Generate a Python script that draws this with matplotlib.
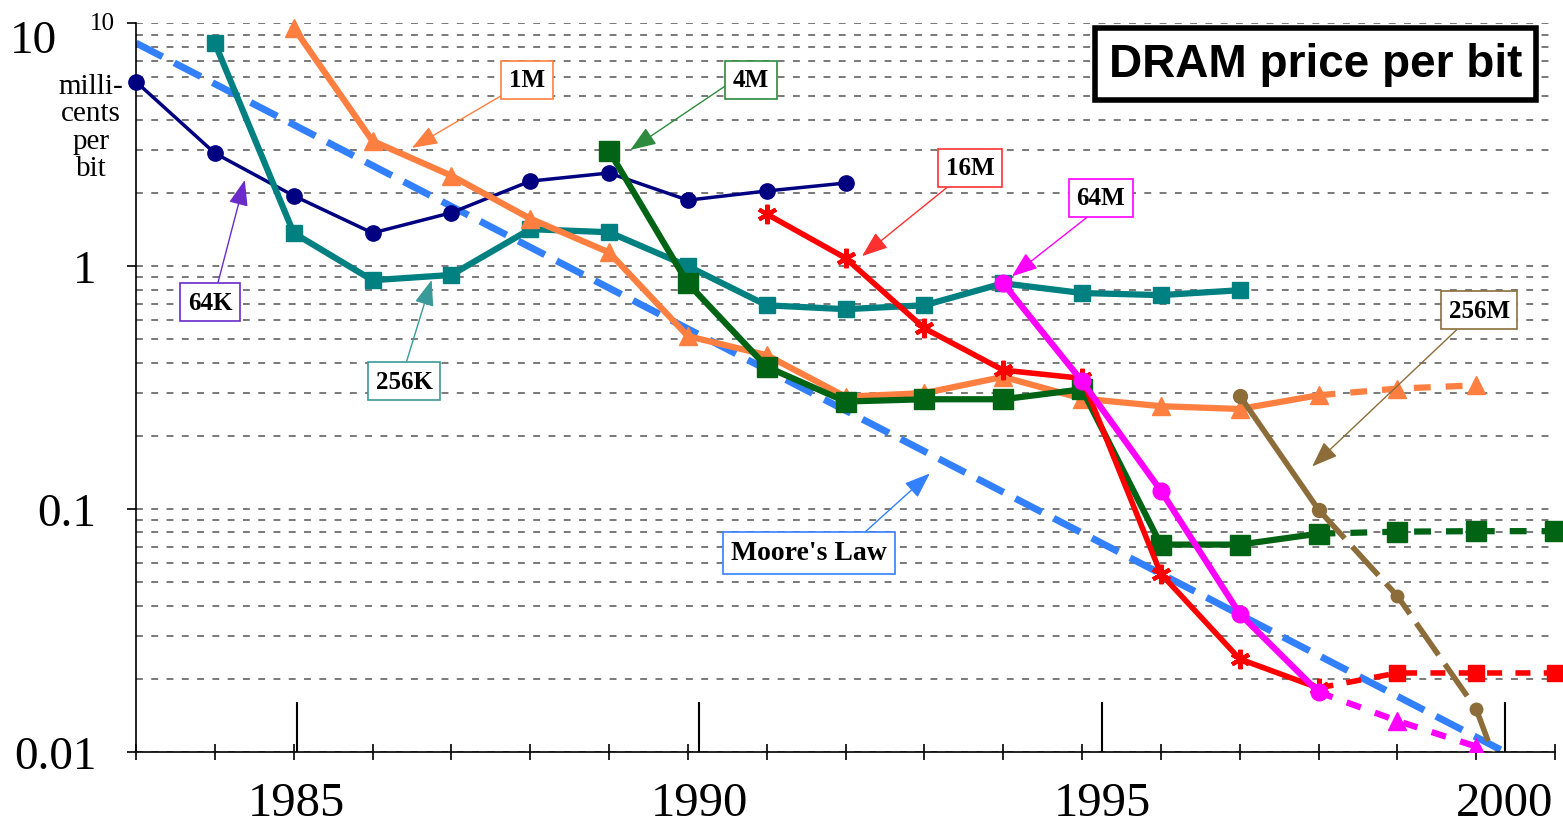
import matplotlib
matplotlib.use('Agg')
import matplotlib.pyplot as plt
from matplotlib.ticker import LogLocator, NullFormatter, FixedLocator
import numpy as np

# ---------------- data (millicents per bit) ----------------
years_64k = [1983, 1984, 1985, 1986, 1987, 1988, 1989, 1990, 1991, 1992]
price_64k = [5.75, 2.92, 1.95, 1.37, 1.66, 2.24, 2.42, 1.87, 2.04, 2.20]

years_256k = [1984, 1985, 1986, 1987, 1988, 1989, 1990, 1991, 1992, 1993, 1994, 1995, 1996, 1997]
price_256k = [8.3, 1.37, 0.875, 0.92, 1.42, 1.38, 1.0, 0.69, 0.665, 0.69, 0.85, 0.775, 0.76, 0.796]

years_1m = [1985, 1986, 1987, 1988, 1989, 1990, 1991, 1992, 1993, 1994, 1995, 1996, 1997, 1998]
price_1m = [9.6, 3.28, 2.36, 1.57, 1.14, 0.515, 0.43, 0.29, 0.30, 0.35, 0.285, 0.265, 0.258, 0.294]
years_1m_proj = [1998, 1999, 2000]
price_1m_proj = [0.294, 0.313, 0.323]

years_4m = [1989, 1990, 1991, 1992, 1993, 1994, 1995, 1996, 1997, 1998]
price_4m = [2.99, 0.85, 0.385, 0.277, 0.283, 0.283, 0.311, 0.0713, 0.0713, 0.0791]
years_4m_proj = [1998, 1999, 2000, 2001]
price_4m_proj = [0.0791, 0.0806, 0.081, 0.081]

years_16m = [1991, 1992, 1993, 1994, 1995, 1996, 1997, 1998]
price_16m = [1.64, 1.08, 0.555, 0.373, 0.345, 0.0541, 0.0241, 0.0183]
years_16m_proj = [1998, 1999, 2000, 2001]
price_16m_proj = [0.0183, 0.0211, 0.0211, 0.0211]

years_64m = [1994, 1995, 1996, 1997, 1998]
price_64m = [0.85, 0.336, 0.119, 0.037, 0.0176]
years_64m_proj = [1998, 1999, 2000]
price_64m_proj = [0.0176, 0.0134, 0.0105]

years_256m = [1997, 1998]
price_256m = [0.293, 0.0993]
years_256m_proj = [1998, 1999, 2000, 2001]
price_256m_proj = [0.0993, 0.0438, 0.015, 0.002]

years_moore = [1983, 2001]
price_moore = [8.3, 0.0078]

year_ticks = list(range(1983, 2002))
year_labels = [1985, 1990, 1995, 2000]
y_ticks = [0.01, 0.1, 1, 10]
y_labels = ['0.01', '0.1', '1', '']

SERIF = 'Liberation Serif'
SANS = 'Liberation Sans'

c_64k = '#000080'
c_256k = '#008080'
c_1m = '#FF7F40'
c_4m = '#006414'
c_16m = '#FF0000'
c_64m = '#FF00FF'
c_256m = '#8C6D3A'
c_moore = '#3380FF'

W, H = 1563, 829
fig = plt.figure(figsize=(W / 100, H / 100), dpi=100)
fig.patch.set_facecolor('white')
ax = fig.add_axes([136 / W, 76.3 / H, 1419 / W, 728.3 / H])
ax.set_yscale('log')
ax.set_xlim(1983, 2001)
ax.set_ylim(0.01, 10)

# grid
ax.yaxis.set_major_locator(FixedLocator(y_ticks))
ax.yaxis.set_minor_locator(LogLocator(base=10, subs=np.arange(2, 10)))
ax.yaxis.set_minor_formatter(NullFormatter())
ax.set_yticklabels(y_labels, fontsize=34, family=SERIF)
ax.tick_params(axis='y', which='minor', length=0)
ax.tick_params(axis='y', which='major', direction='out', length=6.5, width=1.2, pad=22)
ax.grid(True, axis='y', which='both', color='#555555', lw=1.1, linestyle=(0, (4.5, 5.5)))
ax.set_axisbelow(True)

ax.set_xticks(year_ticks)
ax.set_xticklabels([])
ax.tick_params(axis='x', direction='inout', length=11.5, width=1.2)
for s in ['top', 'right']:
    ax.spines[s].set_visible(False)
for s in ['left', 'bottom']:
    ax.spines[s].set_linewidth(1.2)

# Moore's law
ax.plot(years_moore, price_moore, color=c_moore, lw=5, linestyle=(0, (4.3, 1.9)), zorder=2)

# series
ax.plot(years_64k, price_64k, color=c_64k, lw=2.5, marker='o', ms=11, zorder=4, clip_on=False)
ax.plot(years_256k, price_256k, color=c_256k, lw=4.5, marker='s', ms=11, zorder=4, clip_on=False)
ax.plot(years_1m, price_1m, color=c_1m, lw=4.5, marker='^', ms=13, zorder=4, clip_on=False)
ax.plot(years_1m_proj, price_1m_proj, color=c_1m, lw=4.5, marker='^', ms=13,
        linestyle=(0, (2.7, 2.4)), markevery=[1, 2], zorder=4)
ax.plot(years_4m, price_4m, color=c_4m, lw=4.5, marker='s', ms=15, zorder=4)
ax.plot(years_4m_proj, price_4m_proj, color=c_4m, lw=4.5, marker='s', ms=15,
        linestyle=(0, (2.7, 2.4)), markevery=[1, 2, 3], zorder=4, clip_on=False)
ax.plot(years_16m, price_16m, color=c_16m, lw=4, marker=(6, 2, 0), ms=14, mew=3, zorder=4)
ax.plot(years_16m_proj, price_16m_proj, color=c_16m, lw=4, marker='s', ms=12,
        linestyle=(0, (2.7, 2.4)), markevery=[1, 2, 3], zorder=4, clip_on=False)
ax.plot(years_64m, price_64m, color=c_64m, lw=4.5, marker='o', ms=12, zorder=5)
ax.plot(years_64m_proj, price_64m_proj, color=c_64m, lw=4.5, marker='^', ms=13,
        linestyle=(0, (2.4, 2.4)), markevery=[1, 2], zorder=5)
ax.plot(years_256m, price_256m, color=c_256m, lw=4, marker='o', ms=10, zorder=4)
ax.plot(years_256m_proj, price_256m_proj, color=c_256m, lw=4, marker='o', ms=9,
        linestyle=(0, (7, 2)), markevery=[1, 2], zorder=4)


def label(text, xy, xytext, color, relpos, fs=18):
    ax.annotate(text, xy=xy, xytext=xytext, ha='center', va='center',
                fontsize=fs, fontweight='bold', family=SERIF,
                bbox=dict(boxstyle='square,pad=0.3', fc='white', ec=color, lw=1.2),
                arrowprops=dict(arrowstyle='-|>,head_length=0.8,head_width=0.3',
                                color=color, lw=1, shrinkA=0, shrinkB=0,
                                relpos=relpos, mutation_scale=20),
                zorder=6, annotation_clip=False)


label('1M', (1986.50, 3.07), (1987.96, 5.86), c_1m, (0, 0))
label('4M', (1989.27, 3.01), (1990.80, 5.86), '#2E8B3E', (0, 0.45))
label('16M', (1992.21, 1.10), (1993.58, 2.54), '#FF3030', (0.23, 0))
label('64M', (1994.11, 0.908), (1995.24, 1.91), c_64m, (0.42, 0))
label('64K', (1984.38, 2.265), (1983.94, 0.711), '#6A2BC8', (0.63, 1))
label('256K', (1986.75, 0.877), (1986.40, 0.336), '#3A9A9A', (0.5, 1))
label('256M', (1997.92, 0.1496), (2000.04, 0.659), c_256m, (0.27, 0))
label("Moore's Law", (1993.07, 0.14), (1991.54, 0.066), c_moore, (0.8, 1), fs=20)

# title
ax.text(0.831, 0.944, 'DRAM price per bit', transform=ax.transAxes, ha='center', va='center',
        fontsize=33, fontweight='bold', family=SANS, zorder=7,
        bbox=dict(boxstyle='square,pad=0.3', fc='white', ec='black', lw=4))

# small "10" tick label and big overlay "10"
ax.text(-0.0148, 10, '10', transform=ax.get_yaxis_transform(), ha='right', va='center',
        fontsize=18, family=SERIF)
fig.text(33 / W, 1 - 42 / H, '10', ha='center', va='center', fontsize=34, family=SERIF)
fig.text(91 / W, 1 - 128 / H, 'milli-\ncents\nper\nbit', ha='center', va='center',
         fontsize=21, family=SERIF, linespacing=1.08)

# overlay year axis
ax2 = fig.add_axes(ax.get_position(), frameon=False)
ax2.patch.set_visible(False)
ax2.set_xlim(1983.005, 2000.62)
ax2.set_ylim(0, 1)
ax2.set_xticks(year_labels)
ax2.set_xticklabels([str(y) for y in year_labels], fontsize=35, family=SERIF)
ax2.tick_params(axis='x', direction='in', length=36, width=1.5, pad=21)
ax2.tick_params(axis='y', left=False, labelleft=False)

fig.savefig('out.png', dpi=100, facecolor='white')
